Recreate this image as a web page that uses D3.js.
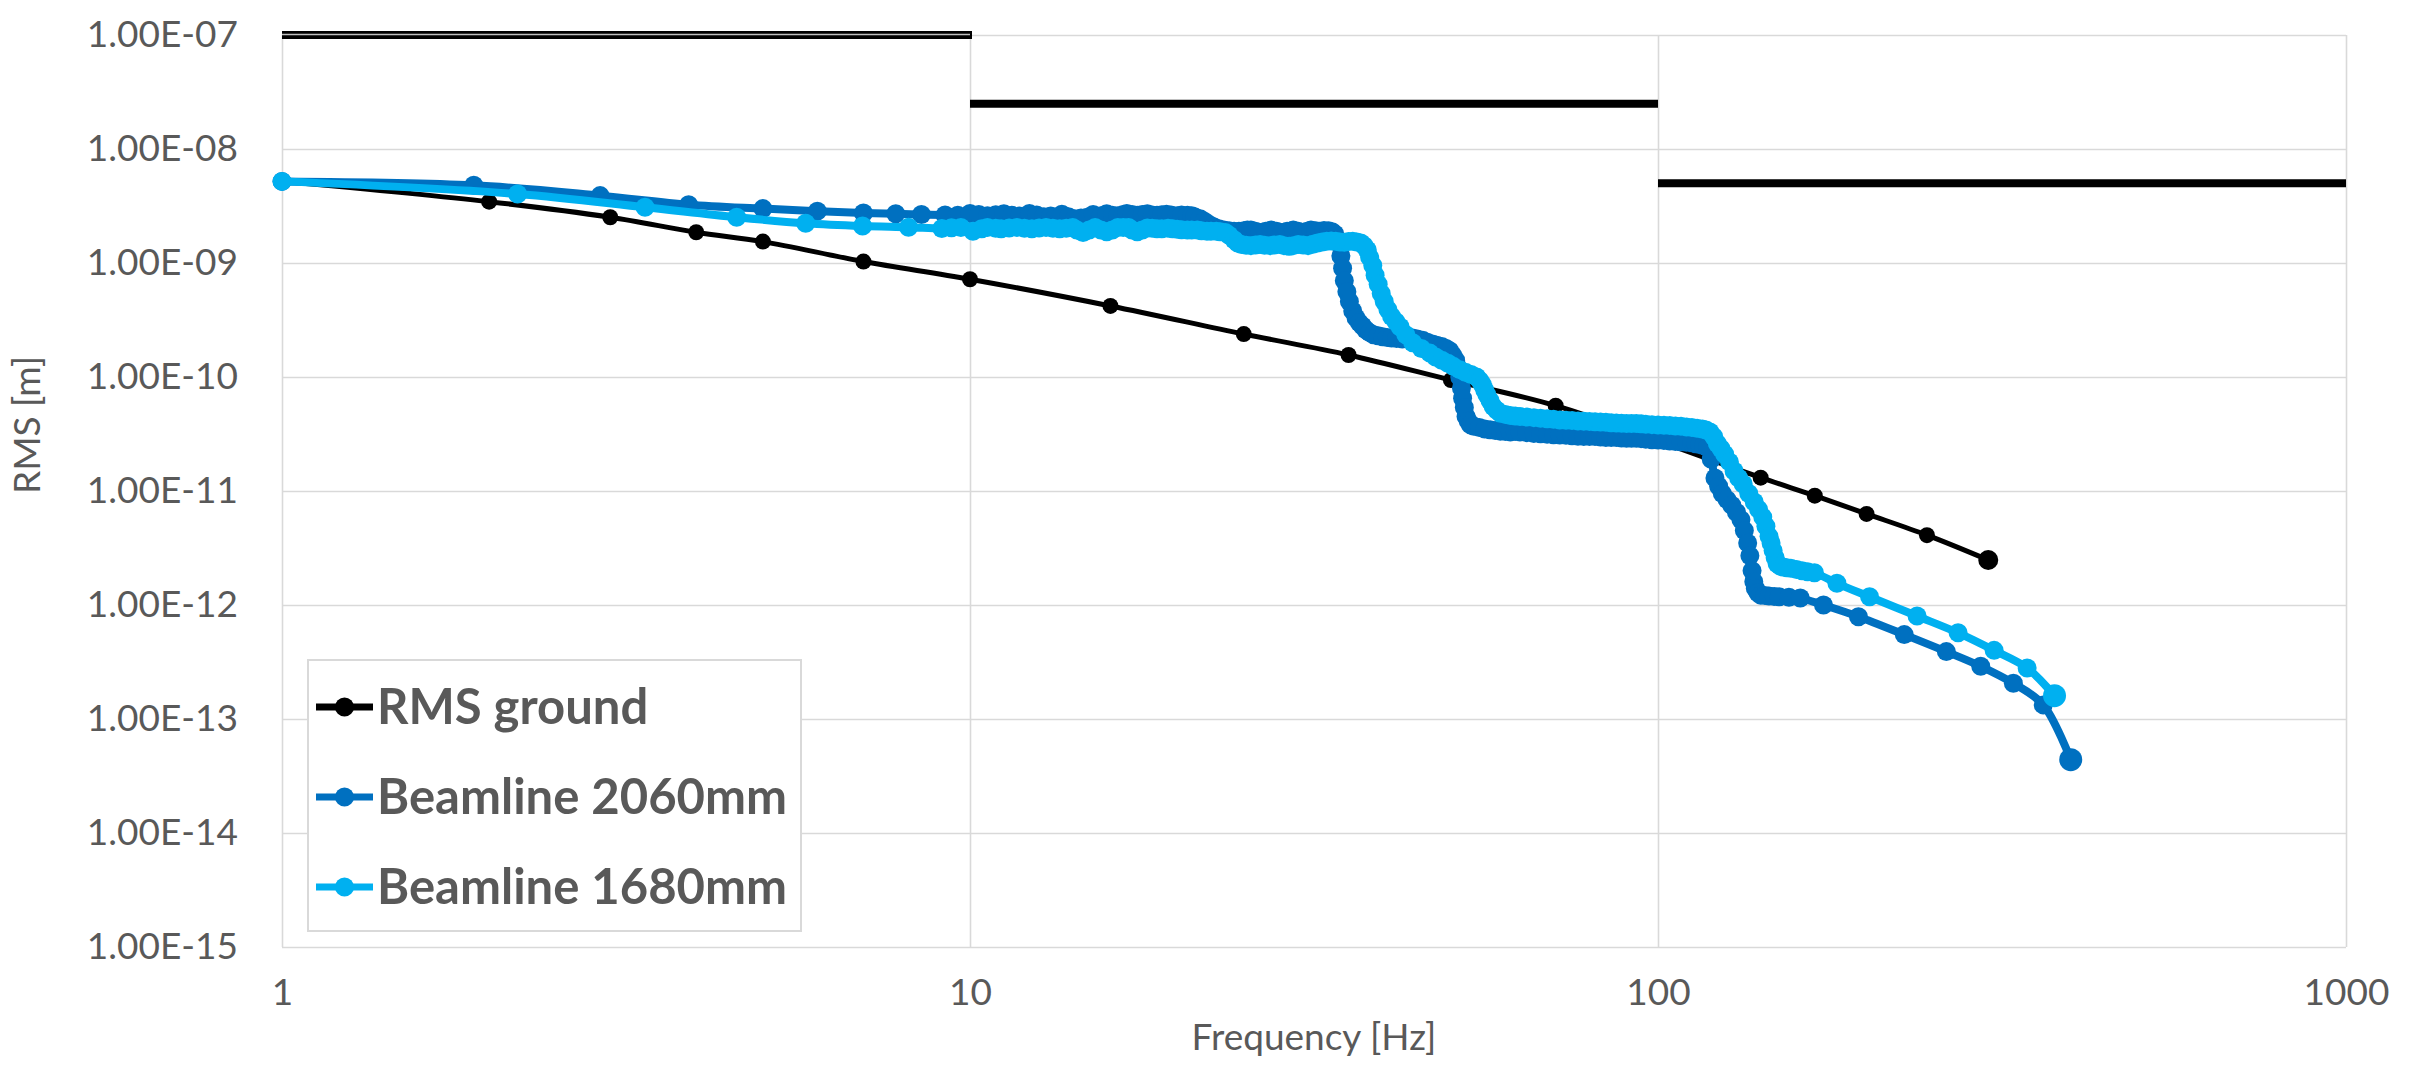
<!DOCTYPE html>
<html>
<head>
<meta charset="utf-8">
<script src="https://cdn.jsdelivr.net/npm/d3@7"></script>
<style>
  html, body { margin: 0; padding: 0; background: #ffffff; }
  svg { display: block; }
</style>
</head>
<body>
<svg id="chart" width="2431" height="1080"></svg>
<script>
// ---------------- DATA ----------------
const xTickValues = [1, 10, 100, 1000];
const xTickLabels = ["1", "10", "100", "1000"];
const yTickValues = [1e-7, 1e-8, 1e-9, 1e-10, 1e-11, 1e-12, 1e-13, 1e-14, 1e-15];
const yTickLabels = ["1.00E-07", "1.00E-08", "1.00E-09", "1.00E-10", "1.00E-11", "1.00E-12", "1.00E-13", "1.00E-14", "1.00E-15"];

const seriesNames = ["RMS ground", "Beamline 2060mm", "Beamline 1680mm"];
const seriesColors = ["#000000", "#0070C0", "#00B0F0"];

// requirement (limit) steps: [fStart, fEnd, level]
const limitSteps = [
  [1, 10, 1e-7],
  [10, 100, 2.5e-8],
  [100, 1000, 5e-9]
];

// RMS ground: [frequency Hz, RMS m]
const rmsGround = [
  [1, 5.2e-9], [2, 3.45e-9], [3, 2.52e-9], [4, 1.86e-9], [5, 1.54e-9], [7, 1.03e-9],
  [10, 7.2e-10], [16, 4.2e-10], [25, 2.38e-10], [35.5, 1.56e-10], [50, 9.4e-11],
  [71, 5.6e-11], [100, 2.75e-11], [141, 1.31e-11], [169, 9.1e-12], [201, 6.3e-12],
  [246, 4.1e-12], [302, 2.48e-12]
];

// Beamline 2060mm
const beam2060 = [
  [1, 5.2e-9], [1.9, 4.8e-9], [2.9, 3.9e-9], [3.9, 3.25e-9], [5.0, 3.0e-9], [6.0, 2.85e-9],
  [7.0, 2.75e-9], [7.8, 2.7e-9], [8.5, 2.66e-9], [9.2, 2.64e-9], [9.6, 2.62e-9],
  [10.0, 2.72e-9], [10.3, 2.66e-9], [10.6, 2.6e-9], [10.9, 2.65e-9], [11.2, 2.7e-9], [11.5, 2.62e-9],
  [11.8, 2.58e-9], [12.2, 2.72e-9], [12.5, 2.64e-9], [12.8, 2.55e-9], [13.1, 2.58e-9], [13.3, 2.5e-9],
  [13.6, 2.68e-9], [13.9, 2.55e-9], [14.2, 2.45e-9], [14.5, 2.48e-9], [14.8, 2.52e-9], [15.1, 2.66e-9],
  [15.5, 2.6e-9], [15.8, 2.7e-9], [16.1, 2.62e-9], [16.4, 2.6e-9], [16.7, 2.66e-9], [16.9, 2.72e-9],
  [17.2, 2.66e-9], [17.5, 2.62e-9], [17.8, 2.66e-9], [18.1, 2.7e-9], [18.4, 2.64e-9], [18.7, 2.62e-9],
  [19.0, 2.65e-9], [19.3, 2.68e-9], [19.6, 2.64e-9], [20.0, 2.6e-9], [20.3, 2.64e-9], [20.7, 2.62e-9],
  [21.0, 2.6e-9], [21.2, 2.55e-9], [21.6, 2.45e-9], [21.9, 2.32e-9], [22.2, 2.2e-9], [22.6, 2.08e-9],
  [23.0, 2.0e-9], [23.4, 1.95e-9], [23.8, 1.92e-9], [24.2, 1.9e-9], [24.6, 1.9e-9], [25.0, 1.92e-9],
  [25.3, 1.95e-9], [25.6, 1.95e-9], [26.0, 1.9e-9], [26.4, 1.85e-9], [26.9, 1.9e-9], [27.4, 1.95e-9],
  [27.9, 1.9e-9], [28.4, 1.85e-9], [28.9, 1.9e-9], [29.5, 1.95e-9], [30.0, 1.9e-9], [30.4, 1.85e-9],
  [30.9, 1.9e-9], [31.3, 1.95e-9], [31.8, 1.92e-9], [32.2, 1.9e-9], [32.7, 1.93e-9], [33.2, 1.92e-9],
  [33.6, 1.88e-9], [33.9, 1.8e-9], [34.3, 1.5e-9], [34.6, 1.15e-9], [34.8, 9e-10], [35.0, 7e-10],
  [35.3, 5.6e-10], [35.6, 4.6e-10], [36.0, 3.8e-10], [36.4, 3.3e-10], [36.8, 3.0e-10], [37.2, 2.8e-10],
  [37.6, 2.6e-10], [38.1, 2.45e-10], [38.6, 2.35e-10], [39.2, 2.3e-10], [39.8, 2.25e-10], [40.4, 2.22e-10],
  [41, 2.2e-10], [41.7, 2.18e-10], [42.5, 2.15e-10], [43.2, 2.18e-10], [44, 2.2e-10], [44.7, 2.15e-10],
  [45.5, 2.1e-10], [46.2, 2.02e-10], [47, 1.95e-10], [47.7, 1.9e-10], [48.5, 1.85e-10], [49.2, 1.78e-10],
  [49.8, 1.7e-10], [50.3, 1.55e-10], [50.8, 1.4e-10], [51.2, 1.2e-10], [51.5, 1.0e-10], [51.8, 8e-11],
  [52.0, 6.5e-11], [52.3, 5.4e-11], [52.6, 4.5e-11], [53.0, 4.1e-11], [53.4, 3.8e-11], [54, 3.7e-11],
  [55, 3.6e-11], [56, 3.5e-11], [57, 3.45e-11], [58, 3.4e-11], [59, 3.35e-11], [60, 3.32e-11],
  [61, 3.3e-11], [62, 3.32e-11], [63, 3.3e-11], [64.5, 3.25e-11], [66, 3.2e-11], [67.5, 3.18e-11],
  [69, 3.15e-11], [70.5, 3.12e-11], [72, 3.1e-11], [73.5, 3.08e-11], [75, 3.05e-11], [76.5, 3.02e-11],
  [78, 3.0e-11], [79.5, 3.0e-11], [81, 3.0e-11], [82.5, 2.97e-11], [84, 2.95e-11], [85.5, 2.95e-11],
  [87, 2.95e-11], [88.5, 2.92e-11], [90, 2.9e-11], [91.5, 2.9e-11], [93, 2.9e-11], [94.5, 2.88e-11],
  [96, 2.85e-11], [98, 2.82e-11], [100, 2.8e-11], [102, 2.78e-11], [104, 2.75e-11], [106, 2.72e-11],
  [108, 2.7e-11], [110, 2.68e-11], [112, 2.65e-11], [113.5, 2.6e-11], [115, 2.55e-11], [116.5, 2.5e-11],
  [118, 2.4e-11], [119.5, 1.9e-11], [121, 1.3e-11], [122.5, 1.1e-11], [124, 9.5e-12], [126, 8.4e-12],
  [128, 7.5e-12], [130, 6.5e-12], [132, 5.6e-12], [133.5, 4.5e-12], [135, 3.5e-12], [136, 2.7e-12],
  [137, 2.0e-12], [137.8, 1.6e-12], [138.5, 1.4e-12], [139.7, 1.28e-12], [141, 1.22e-12], [143, 1.21e-12],
  [145, 1.2e-12], [147.5, 1.19e-12], [150, 1.18e-12], [155, 1.17e-12], [161, 1.15e-12], [174, 1.0e-12],
  [195.6, 7.9e-13], [228, 5.5e-13], [262.5, 3.9e-13], [294.5, 2.9e-13], [328.5, 2.06e-13],
  [363, 1.33e-13], [398, 4.4e-14]
];

// Beamline 1680mm
const beam1680 = [
  [1, 5.2e-9], [2.2, 4.03e-9], [3.37, 3.08e-9], [4.58, 2.52e-9], [5.77, 2.23e-9], [6.98, 2.11e-9],
  [8.14, 2.06e-9], [9.1, 2.01e-9], [9.4, 2.04e-9], [9.7, 2.05e-9], [10.1, 1.9e-9], [10.4, 2.0e-9],
  [10.6, 2.05e-9], [10.9, 2.02e-9], [11.1, 2.0e-9], [11.4, 2.03e-9], [11.7, 2.05e-9], [12.0, 2.02e-9],
  [12.3, 2.0e-9], [12.6, 2.03e-9], [12.9, 2.05e-9], [13.2, 2.02e-9], [13.5, 2.0e-9], [13.8, 2.02e-9],
  [14.1, 2.05e-9], [14.3, 1.95e-9], [14.6, 1.85e-9], [14.9, 1.95e-9], [15.2, 2.05e-9], [15.5, 1.95e-9],
  [15.8, 1.88e-9], [16.1, 1.95e-9], [16.4, 2.05e-9], [16.7, 2.05e-9], [17.0, 2.05e-9], [17.2, 1.95e-9],
  [17.5, 1.88e-9], [17.8, 1.95e-9], [18.1, 2.03e-9], [18.4, 2.02e-9], [18.7, 2.0e-9], [19.0, 2.0e-9],
  [19.4, 2.02e-9], [19.7, 2.0e-9], [20.0, 1.98e-9], [20.3, 1.96e-9], [20.7, 1.95e-9], [21.0, 1.95e-9],
  [21.4, 1.95e-9], [21.7, 1.92e-9], [22.1, 1.9e-9], [22.4, 1.9e-9], [22.8, 1.9e-9], [23.1, 1.88e-9],
  [23.5, 1.85e-9], [23.8, 1.75e-9], [24.2, 1.6e-9], [24.5, 1.5e-9], [24.8, 1.45e-9], [25.2, 1.43e-9],
  [25.6, 1.42e-9], [26.0, 1.44e-9], [26.4, 1.45e-9], [26.8, 1.43e-9], [27.3, 1.42e-9], [27.7, 1.44e-9],
  [28.2, 1.45e-9], [28.6, 1.42e-9], [29.1, 1.4e-9], [29.5, 1.42e-9], [30.0, 1.45e-9], [30.5, 1.44e-9],
  [31.0, 1.42e-9], [31.5, 1.46e-9], [32.0, 1.5e-9], [32.5, 1.53e-9], [33.0, 1.55e-9], [33.5, 1.56e-9],
  [34.0, 1.55e-9], [34.5, 1.53e-9], [35.0, 1.52e-9], [35.5, 1.54e-9], [36.0, 1.55e-9], [36.5, 1.53e-9],
  [37.0, 1.5e-9], [37.4, 1.42e-9], [37.8, 1.3e-9], [38.1, 1.12e-9], [38.5, 9.5e-10], [38.8, 7.8e-10],
  [39.2, 6.5e-10], [39.6, 5.4e-10], [40.0, 4.6e-10], [40.5, 3.9e-10], [41.0, 3.4e-10], [41.6, 3.05e-10],
  [42.2, 2.75e-10], [43, 2.35e-10], [44, 2.0e-10], [45.3, 1.78e-10], [46.6, 1.62e-10], [47.5, 1.5e-10],
  [48.5, 1.4e-10], [49.5, 1.32e-10], [50.4, 1.24e-10], [51.5, 1.16e-10], [52.5, 1.1e-10], [53.5, 1.05e-10],
  [54.5, 1.0e-10], [55.1, 9.3e-11], [55.6, 8.5e-11], [56.0, 7.7e-11], [56.4, 7.0e-11], [57.0, 6.2e-11],
  [57.6, 5.5e-11], [58.3, 5.1e-11], [59, 4.8e-11], [60, 4.7e-11], [61, 4.6e-11], [62, 4.55e-11],
  [63, 4.5e-11], [64.5, 4.45e-11], [66, 4.4e-11], [67.5, 4.35e-11], [69, 4.3e-11], [70.5, 4.25e-11],
  [72, 4.2e-11], [73.5, 4.18e-11], [75, 4.15e-11], [76.5, 4.12e-11], [78, 4.1e-11], [79.5, 4.08e-11],
  [81, 4.05e-11], [82.5, 4.02e-11], [84, 4.0e-11], [85.5, 3.97e-11], [87, 3.95e-11], [88.5, 3.92e-11],
  [90, 3.9e-11], [91.5, 3.9e-11], [93, 3.9e-11], [94.5, 3.88e-11], [96, 3.85e-11], [98, 3.82e-11],
  [100, 3.8e-11], [102, 3.78e-11], [104, 3.75e-11], [106, 3.72e-11], [108, 3.7e-11], [110, 3.65e-11],
  [112, 3.6e-11], [114, 3.55e-11], [116, 3.5e-11], [117.5, 3.42e-11], [119, 3.3e-11], [120.5, 3.0e-11],
  [122, 2.6e-11], [123.5, 2.35e-11], [125, 2.1e-11], [127, 1.8e-11], [129, 1.5e-11], [131, 1.3e-11],
  [133, 1.15e-11], [135.5, 9.5e-12], [138, 8e-12], [140, 6.9e-12], [142, 5.9e-12], [143.5, 4.9e-12],
  [145, 4e-12], [146, 3.5e-12], [147, 3.0e-12], [148, 2.6e-12], [149, 2.3e-12], [150.5, 2.2e-12],
  [152, 2.15e-12], [154, 2.12e-12], [156, 2.1e-12], [159, 2.05e-12], [162, 2.0e-12], [165, 1.96e-12],
  [168.8, 1.92e-12], [182, 1.55e-12], [203, 1.18e-12], [238, 8.0e-13], [273, 5.7e-13], [308, 4.0e-13],
  [344, 2.8e-13], [377, 1.6e-13]
];

const allSeries = [rmsGround, beam2060, beam1680];

// ---------------- CHART ----------------
const svg = d3.select("#chart");
const margin = { left: 282, right: 2431 - 2346, top: 35, bottom: 1080 - 947 };
const plotW = 2346 - 282, plotH = 947 - 35;
const FONT = "Lato, 'Open Sans', 'DejaVu Sans', sans-serif";
const textColor = "#595959";
const gridColor = "#D9D9D9";

const x = d3.scaleLog().domain([1, 1000]).range([margin.left, margin.left + plotW]);
const y = d3.scaleLog().domain([1e-15, 1e-7]).range([margin.top + plotH, margin.top]);

// horizontal gridlines + y labels
const yAxis = d3.axisLeft(y)
  .tickValues(yTickValues)
  .tickFormat((d, i) => yTickLabels[i])
  .tickSize(-plotW)
  .tickPadding(44);
const gy = svg.append("g").attr("transform", `translate(${margin.left},0)`).call(yAxis);
gy.select(".domain").remove();
gy.selectAll(".tick line").attr("stroke", gridColor).attr("stroke-width", 1.6);
gy.selectAll(".tick text")
  .attr("fill", textColor).style("font-family", FONT).style("font-size", "37px");

// vertical gridlines + x labels
const xAxis = d3.axisBottom(x)
  .tickValues(xTickValues)
  .tickFormat((d, i) => xTickLabels[i])
  .tickSize(-plotH)
  .tickPadding(32);
const gx = svg.append("g").attr("transform", `translate(0,${margin.top + plotH})`).call(xAxis);
gx.select(".domain").remove();
gx.selectAll(".tick line").attr("stroke", gridColor).attr("stroke-width", 1.6);
gx.selectAll(".tick text")
  .attr("fill", textColor).style("font-family", FONT).style("font-size", "37px");

// axis titles
svg.append("text")
  .attr("x", margin.left + plotW / 2).attr("y", 1050)
  .attr("text-anchor", "middle")
  .attr("fill", textColor).style("font-family", FONT).style("font-size", "37px")
  .text("Frequency [Hz]");
svg.append("text")
  .attr("transform", `translate(40,425) rotate(-90)`)
  .attr("text-anchor", "middle")
  .attr("fill", textColor).style("font-family", FONT).style("font-size", "37px")
  .text("RMS [m]");

// limit steps
const gLim = svg.append("g");
limitSteps.forEach(s => {
  gLim.append("line")
    .attr("x1", x(s[0])).attr("x2", x(s[1]) + (s[0] === 1 ? 2 : 0))
    .attr("y1", y(s[2])).attr("y2", y(s[2]))
    .attr("stroke", "#000").attr("stroke-width", 8);
});
gLim.append("line")
  .attr("x1", x(1)).attr("x2", x(10))
  .attr("y1", y(1e-7) - 0.5).attr("y2", y(1e-7) - 0.5)
  .attr("stroke", "#BFBFBF").attr("stroke-width", 1.6);

// series
const line = d3.line()
  .x(d => x(d[0])).y(d => y(d[1]))
  .curve(d3.curveCatmullRom.alpha(0.5));
const lineWidths = [5, 8, 8];
const markerR = [8, 9.5, 9.5];

allSeries.forEach((data, i) => {
  const g = svg.append("g");
  g.append("path").datum(data)
    .attr("d", line).attr("fill", "none")
    .attr("stroke", seriesColors[i]).attr("stroke-width", lineWidths[i])
    .attr("stroke-linejoin", "round");
  g.selectAll("circle").data(data).join("circle")
    .attr("cx", d => x(d[0])).attr("cy", d => y(d[1]))
    .attr("r", (d, j) => j === data.length - 1 ? markerR[i] + 2 : markerR[i])
    .attr("fill", seriesColors[i]);
});

// legend
const lg = svg.append("g");
lg.append("rect")
  .attr("x", 308).attr("y", 660).attr("width", 493).attr("height", 271)
  .attr("fill", "#fff").attr("stroke", "#D9D9D9").attr("stroke-width", 2);
const legendY = [707, 797, 887];
seriesNames.forEach((name, i) => {
  const yy = legendY[i];
  lg.append("line").attr("x1", 316).attr("x2", 373).attr("y1", yy).attr("y2", yy)
    .attr("stroke", seriesColors[i]).attr("stroke-width", 7);
  lg.append("circle").attr("cx", 344.5).attr("cy", yy).attr("r", 9.5).attr("fill", seriesColors[i]);
  lg.append("text").attr("x", 377).attr("y", yy).attr("dy", "0.35em")
    .attr("fill", textColor).style("font-family", FONT).style("font-size", "49px")
    .style("font-weight", "bold").text(name);
});
</script>
</body>
</html>
